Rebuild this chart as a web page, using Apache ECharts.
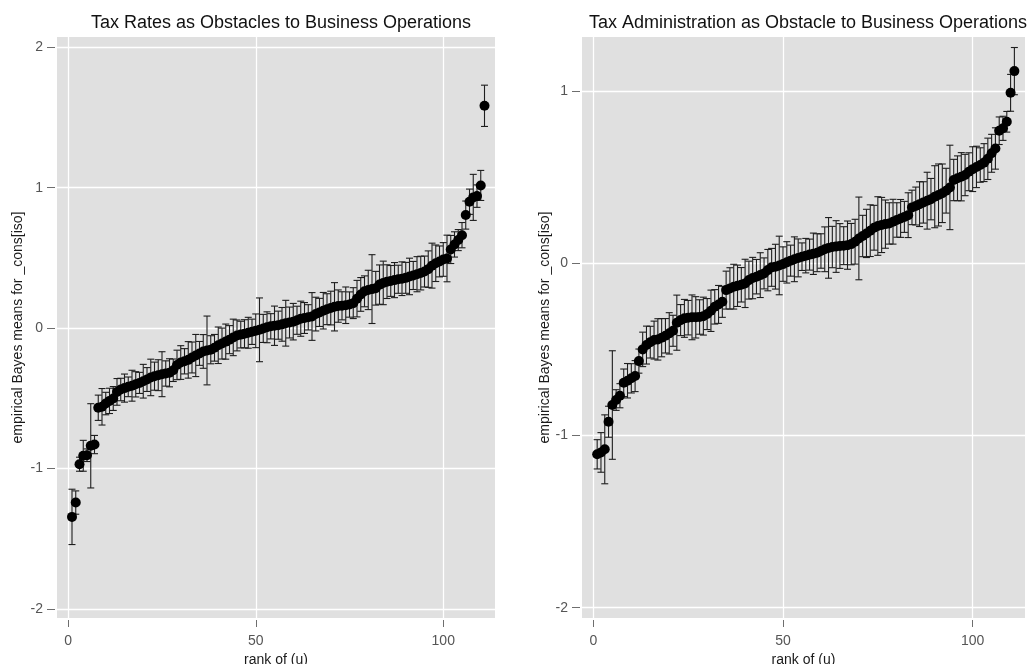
<!DOCTYPE html>
<html><head><meta charset="utf-8">
<script src="https://cdn.jsdelivr.net/npm/echarts@6/dist/echarts.min.js"></script>
<style>html,body{margin:0;padding:0;background:#fff}#c{width:1032px;height:664px}</style>
</head><body><div id="c"></div>
<script>
// ---------- data ----------
const titles = ['Tax Rates as Obstacles to Business Operations', 'Tax Administration as Obstacle to Business Operations'];
const yTitle = 'empirical Bayes means for _cons[iso]';
const xTitle = 'rank of (u)';
const xTicks = [0, 50, 100];
const yTicksLeft = [-2, -1, 0, 1, 2];
const yTicksRight = [-2, -1, 0, 1];

const leftMeans = [
 -1.344,-1.242,-0.969,-0.909,-0.905,-0.838,-0.829,-0.567,-0.560,-0.537,
 -0.518,-0.501,-0.454,-0.437,-0.427,-0.418,-0.410,-0.400,-0.390,-0.378,
 -0.366,-0.351,-0.342,-0.335,-0.328,-0.323,-0.318,-0.300,-0.262,-0.245,
 -0.236,-0.226,-0.209,-0.195,-0.180,-0.166,-0.159,-0.154,-0.140,-0.122,
 -0.110,-0.096,-0.082,-0.066,-0.052,-0.046,-0.040,-0.033,-0.026,-0.019,
 -0.012,-0.002,0.006,0.013,0.017,0.021,0.027,0.035,0.040,0.046,
 0.056,0.067,0.072,0.077,0.083,0.100,0.112,0.124,0.135,0.143,
 0.152,0.157,0.159,0.163,0.168,0.178,0.210,0.240,0.262,0.272,
 0.278,0.284,0.310,0.322,0.331,0.336,0.342,0.348,0.352,0.358,
 0.368,0.375,0.384,0.392,0.403,0.420,0.445,0.462,0.475,0.489,
 0.496,0.560,0.596,0.627,0.662,0.805,0.900,0.931,0.940,1.016,
 1.583
];
const leftHalf = [
 0.197,0.083,0.050,0.110,0.045,0.300,0.065,0.090,0.130,0.080,
 0.090,0.085,0.095,0.080,0.100,0.070,0.110,0.090,0.075,0.120,
 0.085,0.130,0.100,0.110,0.160,0.090,0.100,0.080,0.105,0.120,
 0.090,0.130,0.110,0.150,0.085,0.120,0.245,0.100,0.095,0.130,
 0.110,0.125,0.100,0.130,0.110,0.095,0.100,0.110,0.090,0.120,
 0.227,0.100,0.110,0.090,0.140,0.100,0.120,0.163,0.110,0.130,
 0.100,0.125,0.110,0.090,0.170,0.120,0.100,0.130,0.110,0.120,
 0.172,0.115,0.100,0.130,0.090,0.110,0.130,0.120,0.110,0.140,
 0.245,0.120,0.140,0.155,0.120,0.110,0.125,0.100,0.120,0.110,
 0.130,0.100,0.125,0.120,0.110,0.130,0.160,0.130,0.110,0.120,
 0.166,0.100,0.090,0.075,0.090,0.100,0.090,0.164,0.080,0.107,
 0.147
];
const rightMeans = [
 -1.110,-1.099,-1.081,-0.921,-0.824,-0.795,-0.770,-0.695,-0.683,-0.669,
 -0.656,-0.569,-0.501,-0.476,-0.459,-0.447,-0.443,-0.433,-0.422,-0.408,
 -0.393,-0.346,-0.331,-0.321,-0.317,-0.315,-0.315,-0.313,-0.308,-0.296,
 -0.277,-0.254,-0.240,-0.225,-0.157,-0.147,-0.137,-0.132,-0.126,-0.118,
 -0.099,-0.087,-0.079,-0.070,-0.060,-0.041,-0.025,-0.021,-0.014,-0.006,
 0.004,0.014,0.022,0.030,0.037,0.043,0.049,0.054,0.060,0.070,
 0.080,0.088,0.093,0.096,0.099,0.101,0.104,0.110,0.124,0.143,
 0.157,0.172,0.188,0.205,0.215,0.221,0.226,0.230,0.240,0.250,
 0.259,0.268,0.278,0.323,0.331,0.342,0.352,0.362,0.371,0.385,
 0.395,0.405,0.420,0.439,0.482,0.492,0.501,0.511,0.530,0.545,
 0.558,0.569,0.583,0.605,0.637,0.665,0.768,0.782,0.820,0.988,
 1.114
];
const rightHalf = [
 0.085,0.115,0.200,0.090,0.315,0.060,0.070,0.080,0.100,0.085,
 0.090,0.070,0.100,0.110,0.092,0.110,0.120,0.111,0.100,0.120,
 0.090,0.160,0.090,0.110,0.100,0.130,0.120,0.100,0.110,0.090,
 0.120,0.100,0.110,0.090,0.110,0.120,0.130,0.120,0.100,0.140,
 0.110,0.120,0.100,0.130,0.090,0.120,0.110,0.130,0.170,0.100,
 0.120,0.090,0.130,0.110,0.080,0.100,0.090,0.120,0.110,0.100,
 0.130,0.176,0.120,0.150,0.130,0.110,0.140,0.120,0.130,0.240,
 0.120,0.140,0.150,0.130,0.170,0.160,0.140,0.120,0.130,0.100,
 0.110,0.090,0.130,0.100,0.110,0.130,0.120,0.165,0.120,0.180,
 0.180,0.170,0.130,0.245,0.120,0.130,0.140,0.120,0.110,0.130,
 0.120,0.100,0.110,0.120,0.110,0.120,0.080,0.070,0.060,0.107,
 0.137
];

// ---------- build ----------
function pts(means) { return means.map((v, i) => [i + 1, v]); }
function bars(means, half) { return means.map((v, i) => [i + 1, v - half[i], v + half[i]]); }

const FONT = '"Liberation Sans", Arial, sans-serif';
const BG = '#e0e0e0';

function errRender(params, api) {
  const x = api.value(0), lo = api.value(1), hi = api.value(2);
  const p1 = api.coord([x, lo]), p2 = api.coord([x, hi]);
  const cw = 3.5;
  const st = { stroke: '#1e1e1e', lineWidth: 1.1 };
  return { type: 'group', children: [
    { type: 'line', shape: { x1: p1[0], y1: p1[1], x2: p2[0], y2: p2[1] }, style: st },
    { type: 'line', shape: { x1: p1[0] - cw, y1: p1[1], x2: p1[0] + cw, y2: p1[1] }, style: st },
    { type: 'line', shape: { x1: p2[0] - cw, y1: p2[1], x2: p2[0] + cw, y2: p2[1] }, style: st }
  ]};
}

function xAxisDef(idx) {
  return {
    type: 'value', gridIndex: idx, min: -3, max: 113.8, position: 'bottom', offset: 2,
    name: xTitle, nameLocation: 'middle', nameGap: 30,
    nameTextStyle: { fontFamily: FONT, fontSize: 14, color: '#1a1a1a' },
    axisLine: { show: false, onZero: false },
    axisTick: { show: true, length: 7, customValues: xTicks, lineStyle: { color: '#6e6e6e', width: 1 } },
    axisLabel: { customValues: xTicks, fontFamily: FONT, fontSize: 14, color: '#555', margin: 14 },
    splitLine: { show: true, lineStyle: { color: '#ffffff', width: 1.3 } }
  };
}
function yAxisDef(idx, min, max, ticks, gap) {
  return {
    type: 'value', gridIndex: idx, min: min, max: max, position: 'left', offset: 2,
    name: yTitle, nameLocation: 'middle', nameGap: gap,
    nameTextStyle: { fontFamily: FONT, fontSize: 14, color: '#1a1a1a' },
    axisLine: { show: false, onZero: false },
    axisTick: { show: true, length: 8, customValues: ticks, lineStyle: { color: '#6e6e6e', width: 1 } },
    axisLabel: { customValues: ticks, fontFamily: FONT, fontSize: 14, color: '#555', margin: 12,
      formatter: v => String(v) },
    splitLine: { show: true, lineStyle: { color: '#ffffff', width: 1.3 } }
  };
}

const chart = echarts.init(document.getElementById('c'), null, { renderer: 'canvas' });
chart.setOption({
  animation: false,
  backgroundColor: '#ffffff',
  title: [
    { text: titles[0], left: 276, top: 9, textAlign: 'center',
      textStyle: { fontFamily: FONT, fontSize: 18, fontWeight: 'normal', color: '#111' } },
    { text: titles[1], left: 803, top: 9, textAlign: 'center',
      textStyle: { fontFamily: FONT, fontSize: 18, fontWeight: 'normal', color: '#111' } }
  ],
  grid: [
    { left: 57, top: 37, width: 438, height: 581, show: true, backgroundColor: BG, borderWidth: 0,
      containLabel: false, outerBoundsMode: 'none' },
    { left: 582, top: 37, width: 443, height: 581, show: true, backgroundColor: BG, borderWidth: 0,
      containLabel: false, outerBoundsMode: 'none' }
  ],
  xAxis: [xAxisDef(0), xAxisDef(1)],
  yAxis: [yAxisDef(0, -2.064, 2.073, yTicksLeft, 30), yAxisDef(1, -2.060, 1.312, yTicksRight, 28)],
  series: [
    { type: 'custom', xAxisIndex: 0, yAxisIndex: 0, renderItem: errRender,
      encode: { x: 0, y: [1, 2] }, data: bars(leftMeans, leftHalf), z: 2 },
    { type: 'scatter', xAxisIndex: 0, yAxisIndex: 0, data: pts(leftMeans), symbol: 'circle',
      symbolSize: 10, itemStyle: { color: '#000', opacity: 1 }, z: 3 },
    { type: 'custom', xAxisIndex: 1, yAxisIndex: 1, renderItem: errRender,
      encode: { x: 0, y: [1, 2] }, data: bars(rightMeans, rightHalf), z: 2 },
    { type: 'scatter', xAxisIndex: 1, yAxisIndex: 1, data: pts(rightMeans), symbol: 'circle',
      symbolSize: 10, itemStyle: { color: '#000', opacity: 1 }, z: 3 }
  ]
});
</script></body></html>
